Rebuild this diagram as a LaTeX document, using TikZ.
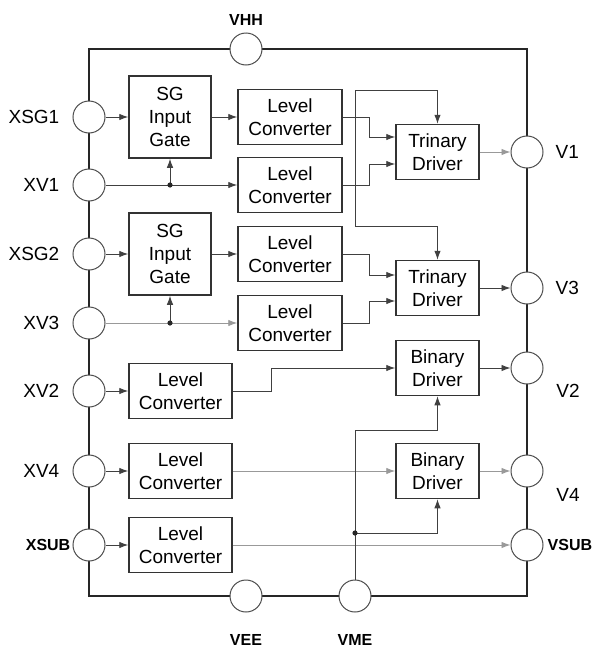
\documentclass[tikz,border=0pt]{standalone}
\usepackage{fontspec}
\setmainfont{Liberation Sans}
\usetikzlibrary{arrows.meta,positioning}
\begin{document}
\begin{tikzpicture}[x=1pt,y=-1pt,
  every node/.style={font=\fontsize{19}{23}\selectfont},
  blk/.style={draw=black!80,line width=1.5pt,align=center,inner sep=0pt},
  sgbox/.style={blk,minimum width=82pt,minimum height=82pt},
  lcbox/.style={blk,minimum width=104pt,minimum height=55pt},
  drvbox/.style={blk,minimum width=83pt,minimum height=55pt},
  pin/.style={circle,draw=black!70,line width=1pt,fill=white,minimum size=32pt,inner sep=0pt},
  plab/.style={inner sep=0pt},
  blab/.style={inner sep=0pt,font=\fontsize{16}{18}\selectfont\bfseries},
  conn/.style={draw=black!75,line width=0.9pt},
  arr/.style={conn,-{Latex[length=9pt,width=6.5pt]}},
  garr/.style={arr,draw=black!40},
  jdot/.style={fill=black!85}]
\useasboundingbox (0,0) rectangle (605,651);
\draw[line width=2.6pt,black!85] (89,49) rectangle (527,596);
\node[pin] (vhh) at (246,49) {};
\node[pin] (vee) at (246,596) {};
\node[pin] (vme) at (355,596) {};
\node[pin] (xsg1) at (89,117) {};
\node[pin] (xv1) at (89,185) {};
\node[pin] (xsg2) at (89,254) {};
\node[pin] (xv3) at (89,323) {};
\node[pin] (xv2) at (89,391) {};
\node[pin] (xv4) at (89,471) {};
\node[pin] (xsub) at (89,545) {};
\node[pin] (v1) at (527,152) {};
\node[pin] (v3) at (527,288) {};
\node[pin] (v2) at (527,368) {};
\node[pin] (v4) at (527,471) {};
\node[pin] (vsub) at (527,545) {};
\node[blab] at (246,20) {VHH};
\node[blab] at (246,640) {VEE};
\node[blab] at (355,640) {VME};
\node[plab,left=13pt of xsg1] {XSG1};
\node[plab,left=13pt of xv1] {XV1};
\node[plab,left=13pt of xsg2] {XSG2};
\node[plab,left=13pt of xv3] {XV3};
\node[plab,left=13pt of xv2] {XV2};
\node[plab,left=13pt of xv4] {XV4};
\node[blab,left=2pt of xsub] {XSUB};
\node[plab,right=12pt of v1] {V1};
\node[plab,right=12pt of v3] {V3};
\node[plab] at (568,391) {V2};
\node[plab] at (568,495) {V4};
\node[blab,right=4pt of vsub] {VSUB};
\node[sgbox] (sg1) at (170,117) {SG\\Input\\Gate};
\node[sgbox] (sg2) at (170,254) {SG\\Input\\Gate};
\node[lcbox] (lc1) at (290,117) {Level\\Converter};
\node[lcbox] (lc2) at (290,185) {Level\\Converter};
\node[lcbox] (lc3) at (290,254) {Level\\Converter};
\node[lcbox] (lc4) at (290,323) {Level\\Converter};
\node[lcbox,minimum width=103pt] (lc5) at (180.5,391) {Level\\Converter};
\node[lcbox,minimum width=103pt] (lc6) at (180.5,471) {Level\\Converter};
\node[lcbox,minimum width=103pt] (lc7) at (180.5,545) {Level\\Converter};
\node[drvbox] (t1) at (437.5,152) {Trinary\\Driver};
\node[drvbox] (t2) at (437.5,288) {Trinary\\Driver};
\node[drvbox] (b1) at (437.5,368) {Binary\\Driver};
\node[drvbox] (b2) at (437.5,471) {Binary\\Driver};
\coordinate (j1) at (sg1.south |- xv1);
\coordinate (j2) at (sg2.south |- xv3);
\coordinate (vtop) at (vme |- 0,90);
\coordinate (vmid) at (vme |- 0,226);
\coordinate (vlow) at (vme |- 0,430);
\coordinate (vdot) at (vme |- 0,533);
\draw[arr] (xsg1) -- (sg1);
\draw[arr] (sg1) -- (lc1);
\draw[arr] (xv1) -- (lc2);
\draw[arr] (j1) -- (sg1.south);
\fill[jdot] (j1) circle (2.6);
\draw[arr] (xsg2) -- (sg2);
\draw[arr] (sg2) -- (lc3);
\draw[garr] (xv3) -- (lc4);
\draw[arr] (j2) -- (sg2.south);
\fill[jdot] (j2) circle (2.6);
\draw[arr] (lc1.east) -- ++(27,0) |- ([yshift=15pt]t1.west);
\draw[arr] (lc2.east) -- ++(27,0) |- ([yshift=-12pt]t1.west);
\draw[arr] (lc3.east) -- ++(27,0) |- ([yshift=13pt]t2.west);
\draw[arr] (lc4.east) -- ++(27,0) |- ([yshift=-13pt]t2.west);
\draw[arr] (xv2) -- (lc5);
\draw[arr] (lc5.east) -- ++(39,0) |- (b1.west);
\draw[arr] (xv4) -- (lc6);
\draw[garr] (lc6) -- (b2);
\draw[arr] (xsub) -- (lc7);
\draw[garr] (lc7) -- (vsub);
\draw[arr] (vmid) -- (vtop) -| (t1.north);
\draw[arr] (vmid) -| (t2.north);
\draw[arr] (vme.north) -- (vlow) -| (b1.south);
\draw[arr] (vdot) -| (b2.south);
\fill[jdot] (vdot) circle (2.6);
\draw[garr] (t1) -- (v1);
\draw[arr] (t2) -- (v3);
\draw[arr] (b1) -- (v2);
\draw[garr] (b2) -- (v4);
\end{tikzpicture}
\end{document}
